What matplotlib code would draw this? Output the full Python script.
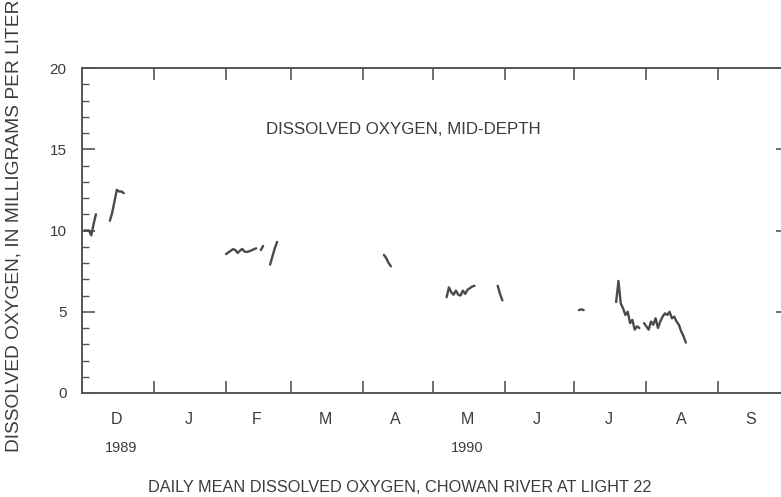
import numpy as np
import pandas as pd
import matplotlib
matplotlib.use("Agg")
import matplotlib.pyplot as plt
import matplotlib.dates as mdates
import matplotlib.transforms as mtransforms
from matplotlib.ticker import MultipleLocator

plt.rcParams['font.family'] = ['Liberation Sans', 'DejaVu Sans']

# daily mean dissolved oxygen (mg/L), each run starts on its own date, nan = missing day
dec_a_start = "1989-12-02"
dec_a_do = [10.0, 10.0, 10.0, 9.7, 10.4, 11.0]

dec_b_start = "1989-12-13"
dec_b_do = [10.6, 11.1, 11.8, 12.5, 12.4, 12.4, 12.3]

feb_start = "1990-02-01"
feb_do = [8.55, 8.65, 8.75, 8.85, 8.8, 8.62, 8.75, 8.87, 8.7, 8.68, 8.72, 8.78,
          8.85, 8.9, np.nan, 8.8, 9.05, np.nan, np.nan, 7.9, 8.4, 8.9, 9.3]

apr_start = "1990-04-10"
apr_do = [8.5, 8.3, 8.0, 7.8]

may_start = "1990-05-07"
may_do = [5.9, 6.5, 6.2, 6.05, 6.3, 6.05, 6.0, 6.3, 6.1, 6.35, 6.45, 6.55, 6.6,
          np.nan, np.nan, np.nan, np.nan, np.nan, np.nan, np.nan, np.nan, np.nan,
          6.6, 6.1, 5.7]

jul_a_start = "1990-07-03"
jul_a_do = [5.1, 5.15, 5.1]

jul_b_start = "1990-07-19"
jul_b_do = [5.6, 6.9, 5.5, 5.2, 4.8, 5.0, 4.3, 4.5, 3.9, 4.1, 4.0, np.nan, 4.3,
            4.1, 3.9, 4.4, 4.2, 4.6, 4.0, 4.4, 4.7, 4.9, 4.8, 5.0, 4.6, 4.7,
            4.4, 4.2, 3.8, 3.5, 3.1]

month_letters = ["D", "J", "F", "M", "A", "M", "J", "J", "A", "S"]
month_mids = ["1989-12-16", "1990-01-16", "1990-02-14", "1990-03-16", "1990-04-15",
              "1990-05-16", "1990-06-15", "1990-07-16", "1990-08-16", "1990-09-15"]
year_labels = ["1989", "1990"]
year_pos = ["1989-12-18", "1990-05-16"]

segments = [(dec_a_start, dec_a_do), (dec_b_start, dec_b_do), (feb_start, feb_do),
            (apr_start, apr_do), (may_start, may_do), (jul_a_start, jul_a_do),
            (jul_b_start, jul_b_do)]

ink = '#4a4a4a'
txt = '#3c3c3c'

fig = plt.figure(figsize=(7.81, 4.97), dpi=100)
ax = fig.add_axes([82/781, 104/497, 706/781, 325/497])

for start, vals in segments:
    d = pd.date_range(start, periods=len(vals), freq='D')
    ax.plot(d, vals, color=ink, lw=1.7, solid_capstyle='round')

ax.set_xlim(pd.Timestamp("1989-12-01"), pd.Timestamp("1990-10-01"))
ax.set_ylim(0, 20)

ax.xaxis.set_major_locator(mdates.MonthLocator())
ax.yaxis.set_major_locator(MultipleLocator(5))
ax.yaxis.set_minor_locator(MultipleLocator(1))

ax.tick_params(axis='x', which='major', direction='in', length=8.5, width=1.2,
               color='#555555', top=True, labelbottom=False)
ax.tick_params(axis='y', which='major', direction='in', length=9, width=1.2,
               color='#555555', right=True, labelsize=11, labelcolor=txt, pad=11)
ax.tick_params(axis='y', which='minor', direction='in', length=5, width=1.0,
               color='#555555', right=True)

for s in ax.spines.values():
    s.set_color('#555555')
    s.set_linewidth(1.4)

trans = mtransforms.blended_transform_factory(ax.transData, ax.transAxes)
for lab, m in zip(month_letters, month_mids):
    ax.text(pd.Timestamp(m), -0.08, lab, transform=trans, ha='center', va='center',
            fontsize=11.5, color=txt)
for lab, p in zip(year_labels, year_pos):
    ax.text(pd.Timestamp(p), -0.168, lab, transform=trans, ha='center', va='center',
            fontsize=10.5, color=txt)

ax.text(0.455, 0.81, "DISSOLVED OXYGEN, MID-DEPTH", transform=ax.transAxes,
        ha='center', va='center', fontsize=12.2, color=txt)

fig.text(400/781, 10/497, "DAILY MEAN DISSOLVED OXYGEN, CHOWAN RIVER AT LIGHT 22",
         ha='center', va='center', fontsize=11.7, color=txt)
fig.text(14/781, 45/497, "DISSOLVED OXYGEN, IN MILLIGRAMS PER LITER", rotation=90,
         ha='center', va='bottom', fontsize=13.8, color=txt)

fig.savefig("out.png", dpi=100)
